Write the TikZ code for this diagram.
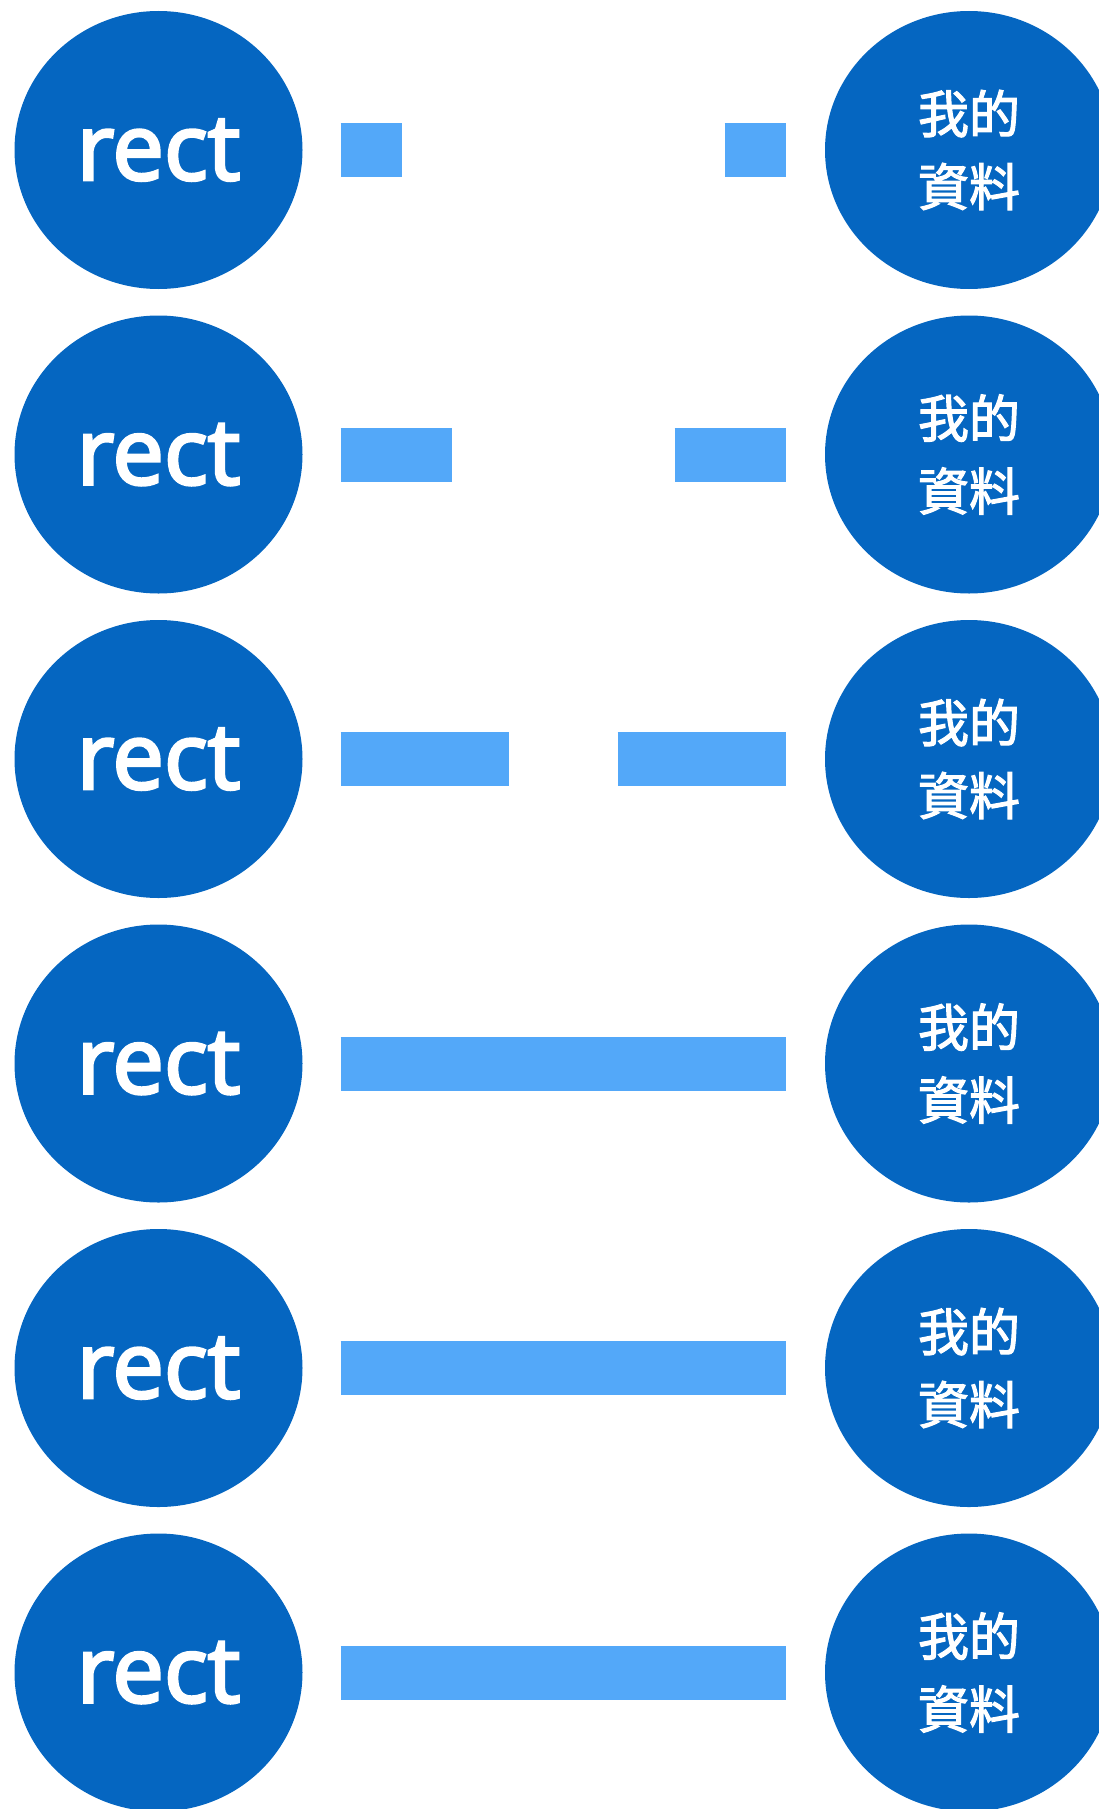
\documentclass[tikz,border=0pt]{standalone}
\usepackage{fontspec}
\setmainfont{Open Sans}
\newfontfamily\rectfont{Open Sans}[FakeBold=3.2]
\newfontfamily\cjk{Noto Sans CJK TC}[FakeBold=2.2]
\usetikzlibrary{shapes.geometric}
\definecolor{dark}{HTML}{0566C1}
\definecolor{light}{HTML}{53A8F9}
\begin{document}
\begin{tikzpicture}[x=1pt,y=-1pt,
  bubble/.style={ellipse, fill=dark, draw=none, inner sep=0pt, minimum width=288pt, minimum height=278pt, text=white},
  lefttxt/.style={font=\rectfont\fontsize{92}{100}\selectfont},
  righttxt/.style={font=\cjk\fontsize{51}{73}\selectfont, align=center},
  conn/.style={draw=light, line width=54pt, line cap=butt}]
\useasboundingbox (0,0) rectangle (1099,1809);
\foreach \i/\y in {1/150,2/454.5,3/759,4/1063.5,5/1368,6/1672.5}{
  \node[bubble,lefttxt] (L\i) at (158.5,\y) {rect};
  \node[bubble,righttxt] (R\i) at (969,\y) {我的\\資料};
}
\draw[conn, dash pattern=on 61pt off 323pt] ([xshift=38pt]L1.east) -- ([xshift=-39pt]R1.west);
\draw[conn, dash pattern=on 111pt off 223pt] ([xshift=38pt]L2.east) -- ([xshift=-39pt]R2.west);
\draw[conn, dash pattern=on 168pt off 109pt] ([xshift=38pt]L3.east) -- ([xshift=-39pt]R3.west);
\draw[conn] ([xshift=38pt]L4.east) -- ([xshift=-39pt]R4.west);
\draw[conn] ([xshift=38pt]L5.east) -- ([xshift=-39pt]R5.west);
\draw[conn] ([xshift=38pt]L6.east) -- ([xshift=-39pt]R6.west);
\end{tikzpicture}
\end{document}
